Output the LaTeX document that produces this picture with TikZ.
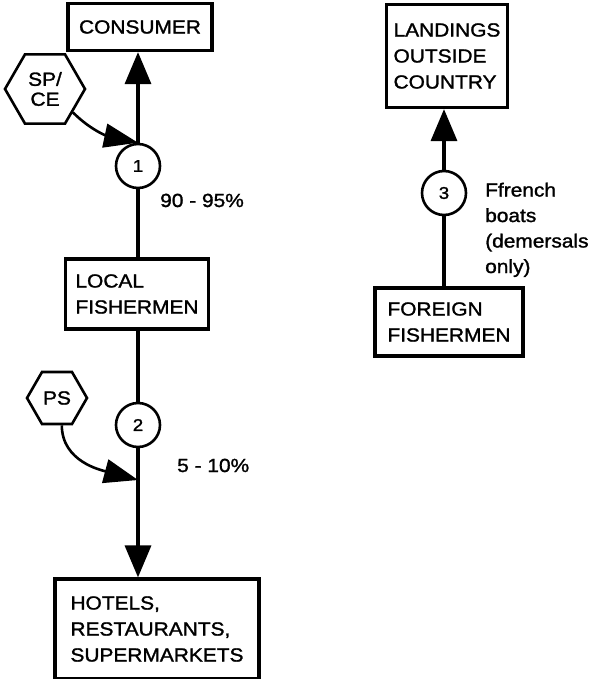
\documentclass[tikz,border=0pt]{standalone}
\usepackage{fontspec}
\setmainfont[FakeStretch=1.1, FakeBold=1.4]{Liberation Sans}
\usetikzlibrary{arrows.meta, shapes.geometric}

\begin{document}
\begin{tikzpicture}[x=1pt, y=-1pt, font=\fontsize{19}{26}\selectfont,
    >={Triangle[length=32pt, width=26pt]},
    flowbox/.style={draw, line width=3.2pt, align=left, inner sep=3pt},
    stagecirc/.style={draw, circle, line width=2.6pt, minimum size=44pt, inner sep=0pt, font=\fontsize{17}{18}\selectfont},
    hexnode/.style={draw, regular polygon, regular polygon sides=6, line width=2.6pt, inner sep=0pt, align=center, font=\fontsize{19}{20}\selectfont},
    flowline/.style={line width=3.4pt},
    sideline/.style={line width=2.6pt, -{Triangle[length=34pt, width=24pt]}}]
    % Page frame
    \useasboundingbox (0,0) rectangle (593,679);

    % Left chain: local fishermen
    \node[flowbox, minimum width=144pt, minimum height=47pt] (consumer) at (140,27) {CONSUMER};
    \node[stagecirc] (c1) at (138,166) {1};
    \node[flowbox, minimum width=143pt, minimum height=70pt] (local) at (137,294) {LOCAL\\FISHERMEN};
    \node[stagecirc] (c2) at (138,425) {2};
    \node[flowbox, minimum width=204pt, minimum height=100pt] (hotels) at (157,629) {HOTELS,\\RESTAURANTS,\\SUPERMARKETS};

    % Hexagon tags
    \node[hexnode, minimum size=80pt] (spce) at (45,89) {SP/\\CE};
    \node[hexnode, minimum size=60pt] (ps) at (57,398) {PS};

    % Shares
    \node[anchor=base west, inner sep=0pt] (share1) at (160,207) {90 - 95\%};
    \node[anchor=base west, inner sep=0pt] (share2) at (177,472) {5 - 10\%};

    % Main flow
    \draw[flowline, ->] (c1.north) -- (c1 |- consumer.south);
    \draw[flowline] (c1.south) -- (c1 |- local.north);
    \draw[flowline] (c2.north) -- (c2 |- local.south);
    \draw[flowline, ->] (c2.south) -- (c2 |- hotels.north);

    % Tag arrows
    \coordinate (psin) at (138,480);
    \draw[sideline] (spce.-40) to[out=-45, in=168] (c1.north);
    \draw[sideline] (ps.-80) to[out=-90, in=165] (psin);

    % Right chain: foreign fishermen
    \node[flowbox, minimum width=121pt, minimum height=103pt] (landings) at (447,56) {LANDINGS\\OUTSIDE\\COUNTRY};
    \node[stagecirc] (c3) at (444,193) {3};
    \node[flowbox, minimum width=148pt, minimum height=68pt] (foreign) at (449,322) {FOREIGN\\FISHERMEN};
    \node[anchor=base west, inner sep=0pt, align=left, font=\fontsize{19}{25.5}\selectfont] (note) at (485,273) {Ffrench\\boats\\(demersals\\only)};

    \draw[flowline, ->] (c3.north) -- (c3 |- landings.south);
    \draw[flowline] (c3.south) -- (c3 |- foreign.north);
\end{tikzpicture}
\end{document}
